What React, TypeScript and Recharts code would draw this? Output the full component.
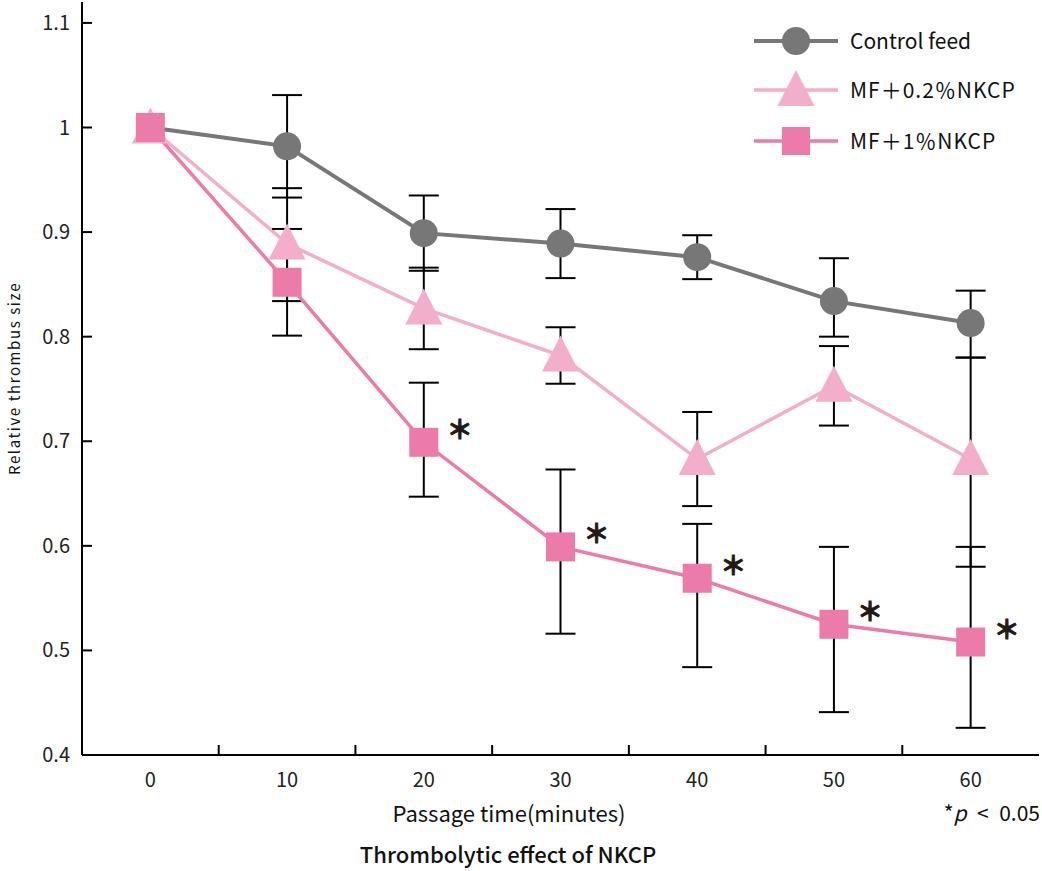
import React from 'react';
import { LineChart, Line, XAxis, YAxis, ErrorBar, LabelList } from 'recharts';

// ---- data ----
const times = [0, 10, 20, 30, 40, 50, 60];
const controlFeed = [1.0, 0.982, 0.899, 0.889, 0.876, 0.834, 0.813];
const controlErr: (number[] | null)[] = [null, [0.049, 0.049], [0.036, 0.036], [0.033, 0.033], [0.021, 0.021], [0.034, 0.041], [0.033, 0.031]];
const mf02 = [1.0, 0.889, 0.827, 0.782, 0.683, 0.753, 0.683];
const mf02Err: (number[] | null)[] = [null, [0.055, 0.053], [0.039, 0.039], [0.027, 0.027], [0.045, 0.045], [0.038, 0.038], [0.103, 0.097]];
const mf1 = [1.0, 0.852, 0.699, 0.599, 0.569, 0.525, 0.508];
const mf1Err: (number[] | null)[] = [null, [0.051, 0.051], [0.052, 0.057], [0.083, 0.074], [0.085, 0.052], [0.084, 0.074], [0.082, 0.091]];
const significance = ['', '', '＊', '＊', '＊', '＊', '＊'];

const xTicks = [0, 5, 10, 15, 20, 25, 30, 35, 40, 45, 50, 55, 60];
const yTicks = [0.4, 0.5, 0.6, 0.7, 0.8, 0.9, 1.0, 1.1];

const seriesNames = ['Control feed', 'MF＋0.2％NKCP', 'MF＋1％NKCP'];
const xLabel = 'Passage time(minutes)';
const yLabel = 'Relative thrombus size';
const title = 'Thrombolytic effect of NKCP';

const data = times.map((t, i) => ({
  t,
  control: controlFeed[i],
  controlErr: controlErr[i],
  mf02: mf02[i],
  mf02Err: mf02Err[i],
  mf1: mf1[i],
  mf1Err: mf1Err[i],
  sig: significance[i],
}));

const FONT = '"Noto Sans CJK JP", "Noto Sans", sans-serif';
const GRAY = '#777777';
const LIGHT = '#F3AECB';
const PINK = '#EC7BAA';

const XTick = (props: any) => {
  const { x, y, payload } = props;
  const v = payload.value;
  if (v % 10 !== 0) {
    return <line x1={x} x2={x} y1={y} y2={y - 10} stroke="#000" strokeWidth={2} />;
  }
  return (
    <text x={x} y={y + 32} textAnchor="middle" fontSize={20} fontFamily={FONT} fill="#222">
      {v}
    </text>
  );
};

const YTick = (props: any) => {
  const { x, y, payload } = props;
  const v = payload.value;
  return (
    <g>
      <line x1={x} x2={x + 10} y1={y} y2={y} stroke="#000" strokeWidth={2} />
      <text x={x - 12} y={y + 7} textAnchor="end" fontSize={20} fontFamily={FONT} fill="#222">
        {String(Number(v.toFixed(2)))}
      </text>
    </g>
  );
};

const triPath = (cx: number, cy: number) =>
  `M${cx},${cy - 20} L${cx + 18.5},${cy + 16} L${cx - 18.5},${cy + 16} Z`;

const TriangleDot = (props: any) => {
  const { cx, cy, index } = props;
  if (cx == null || cy == null) return null;
  return <path key={`tri-${index}`} d={triPath(cx, cy)} fill={LIGHT} />;
};

const SquareDot = (props: any) => {
  const { cx, cy, index } = props;
  if (cx == null || cy == null) return null;
  return <rect key={`sq-${index}`} x={cx - 14.5} y={cy - 14.5} width={29} height={29} fill={PINK} />;
};

const StarLabel = (props: any) => {
  const { x, y, value } = props;
  if (!value) return null;
  return (
    <text
      x={x + 36}
      y={y - 15}
      textAnchor="middle"
      dominantBaseline="central"
      fontSize={26}
      fontWeight={700}
      stroke="#231815"
      strokeWidth={1}
      fontFamily={FONT}
      fill="#231815"
    >
      {value}
    </text>
  );
};

const YLabel = (props: any) => {
  const { viewBox } = props;
  const cy = viewBox.y + viewBox.height / 2;
  const cx = 13;
  return (
    <text
      x={cx}
      y={cy}
      transform={`rotate(-90 ${cx} ${cy})`}
      textAnchor="middle"
      dominantBaseline="central"
      fontSize={15}
      letterSpacing={1.6}
      fontFamily={FONT}
      fill="#111"
    >
      {yLabel}
    </text>
  );
};

const LegendBox = () => {
  const rows = [41, 90, 141];
  return (
    <svg width={300} height={170} style={{ display: 'block' }}>
      <line x1={14} x2={98} y1={rows[0]} y2={rows[0]} stroke={GRAY} strokeWidth={4} />
      <circle cx={56} cy={rows[0]} r={14} fill={GRAY} />
      <text x={110} y={rows[0] + 8} fontSize={21} fontFamily={FONT} fill="#111">{seriesNames[0]}</text>
      <line x1={14} x2={98} y1={rows[1]} y2={rows[1]} stroke={LIGHT} strokeWidth={3.5} />
      <path d={triPath(56, rows[1])} fill={LIGHT} />
      <text x={110} y={rows[1] + 8} fontSize={21} letterSpacing={1} fontFamily={FONT} fill="#111">{seriesNames[1]}</text>
      <line x1={14} x2={98} y1={rows[2]} y2={rows[2]} stroke={PINK} strokeWidth={3.5} />
      <rect x={56 - 14} y={rows[2] - 14} width={28} height={28} fill={PINK} />
      <text x={110} y={rows[2] + 8} fontSize={21} letterSpacing={1} fontFamily={FONT} fill="#111">{seriesNames[2]}</text>
    </svg>
  );
};

export default function App() {
  return (
    <div style={{ position: 'absolute', left: 0, top: 0, width: 1042, height: 871, background: '#fff', fontFamily: FONT }}>
      <LineChart width={1042} height={871} data={data} margin={{ top: 2, right: 3, left: 0, bottom: 86 }}>
        <XAxis
          dataKey="t"
          type="number"
          domain={[-5, 65]}
          ticks={xTicks}
          interval={0}
          tickSize={0}
          tickMargin={0}
          tickLine={false}
          height={30}
          tick={XTick}
          axisLine={{ stroke: '#000', strokeWidth: 2 }}
        />
        <XAxis
          xAxisId="top"
          orientation="top"
          dataKey="t"
          type="number"
          domain={[-5, 65]}
          height={0}
          tick={false}
          tickLine={false}
          axisLine={{ stroke: '#000', strokeWidth: 2 }}
        />
        <YAxis
          type="number"
          domain={[0.4, 1.12]}
          ticks={yTicks}
          interval={0}
          tickSize={0}
          tickMargin={0}
          tickLine={false}
          width={82}
          tick={YTick}
          axisLine={{ stroke: '#000', strokeWidth: 2 }}
          label={<YLabel />}
        />
        <YAxis
          yAxisId="right"
          orientation="right"
          type="number"
          domain={[0.4, 1.12]}
          width={0}
          tick={false}
          tickLine={false}
          axisLine={{ stroke: '#000', strokeWidth: 2 }}
        />
        <Line
          dataKey="control"
          stroke={GRAY}
          strokeWidth={4}
          dot={{ r: 14, fill: GRAY, stroke: 'none' }}
          activeDot={false}
          isAnimationActive={false}
        >
          <ErrorBar dataKey="controlErr" width={15} stroke="#000" strokeWidth={2} direction="y" isAnimationActive={false} />
        </Line>
        <Line
          dataKey="mf02"
          stroke={LIGHT}
          strokeWidth={3.5}
          dot={TriangleDot}
          activeDot={false}
          isAnimationActive={false}
        >
          <ErrorBar dataKey="mf02Err" width={15} stroke="#000" strokeWidth={2} direction="y" isAnimationActive={false} />
        </Line>
        <Line
          dataKey="mf1"
          stroke={PINK}
          strokeWidth={3.5}
          dot={SquareDot}
          activeDot={false}
          isAnimationActive={false}
        >
          <ErrorBar dataKey="mf1Err" width={15} stroke="#000" strokeWidth={2} direction="y" isAnimationActive={false} />
          <LabelList dataKey="sig" content={StarLabel} />
        </Line>
      </LineChart>
      <div style={{ position: 'absolute', left: 740, top: 0 }}>
        <LegendBox />
      </div>
      <div style={{ position: 'absolute', left: 0, width: 1018, top: 797, textAlign: 'center', fontSize: 22, lineHeight: '30px', color: '#111' }}>
        {xLabel}
      </div>
      <div style={{ position: 'absolute', right: 2, top: 797, fontSize: 21, lineHeight: '30px', color: '#111' }}>
        *<i>p</i>&ensp;&lt;&ensp;0.05
      </div>
      <div style={{ position: 'absolute', left: 0, width: 1016, top: 838, textAlign: 'center', fontSize: 22, fontWeight: 500, lineHeight: '30px', color: '#111' }}>
        {title}
      </div>
    </div>
  );
}
